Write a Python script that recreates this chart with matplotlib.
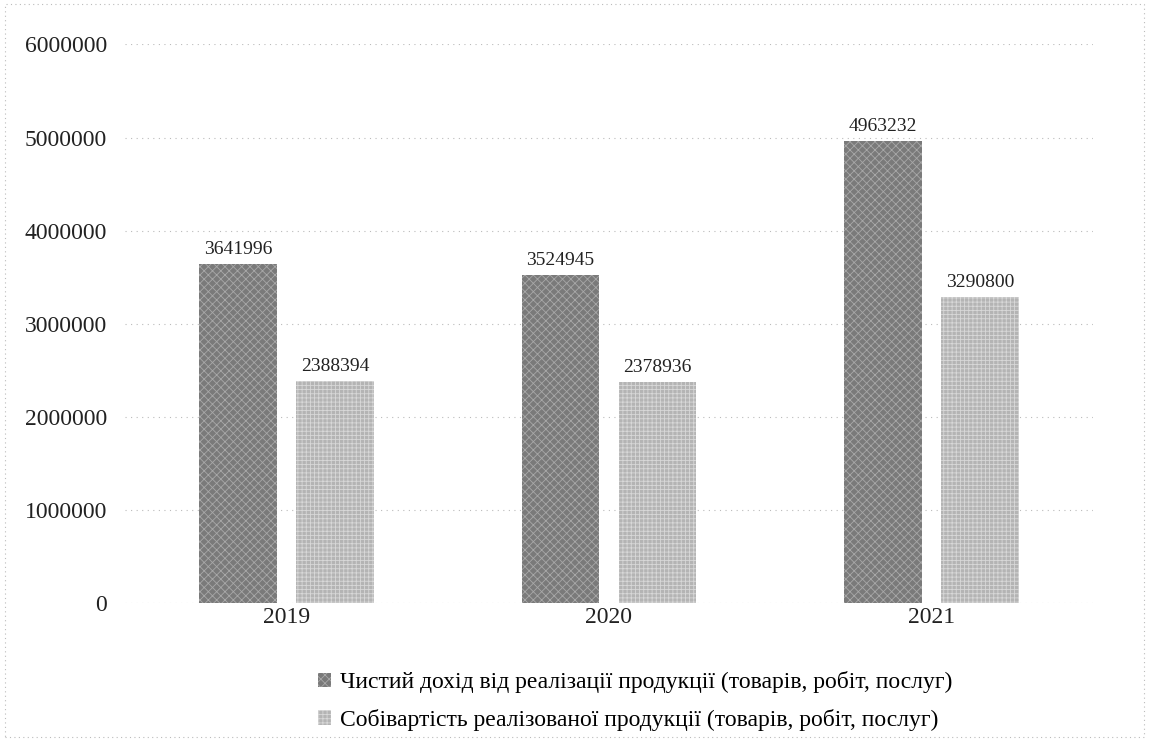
import matplotlib.pyplot as plt
import numpy as np

years = ['2019', '2020', '2021']
dohid = [3641996, 3524945, 4963232]
sobivartist = [2388394, 2378936, 3290800]
nazvy = ['Чистий дохід від реалізації продукції (товарів, робіт, послуг)',
         'Собівартість реалізованої продукції (товарів, робіт, послуг)']

plt.rcParams['font.family'] = ['Liberation Serif', 'DejaVu Serif']
plt.rcParams['hatch.linewidth'] = 0.6

fig = plt.figure(figsize=(11.49, 7.4), dpi=100)
ax = fig.add_axes([0.109, 0.185, 0.842, 0.755])

x = np.arange(len(years))
w = 0.24
b1 = ax.bar(x - 0.15, dohid, w, color='#7a7a7a', edgecolor='#a8a8a8',
            hatch='xxxx', linewidth=0, label=nazvy[0])
b2 = ax.bar(x + 0.15, sobivartist, w, color='#b4b4b4', edgecolor='#d8d8d8',
            hatch='++++', linewidth=0, label=nazvy[1])

for rects, vals in ((b1, dohid), (b2, sobivartist)):
    for r, v in zip(rects, vals):
        ax.text(r.get_x() + r.get_width() / 2, v + 60000, str(v),
                ha='center', va='bottom', fontsize=14, color='#222222')

ax.set_ylim(0, 6000000)
ax.set_xlim(-0.5, 2.5)
ax.set_yticks(range(0, 6000001, 1000000))
ax.set_yticklabels([str(t) for t in range(0, 6000001, 1000000)])
ax.set_xticks(x)
ax.set_xticklabels(years)
ax.tick_params(axis='both', length=0, labelsize=17, colors='#222222')
ax.tick_params(axis='y', pad=13)
ax.tick_params(axis='x', pad=3)
ax.grid(axis='y', linestyle=(0, (1, 4)), color='#bbbbbb', linewidth=0.8)
ax.set_axisbelow(True)
for s in ax.spines.values():
    s.set_visible(False)

fig.legend(loc='upper center', bbox_to_anchor=(0.553, 0.122), ncol=1,
           frameon=False, fontsize=17, handlelength=0.55, handleheight=0.55,
           handletextpad=0.4, labelspacing=0.67)

# тонка пунктирна рамка як у скані
fig.patches.append(plt.Rectangle((0.004, 0.004), 0.992, 0.99, transform=fig.transFigure,
                                 fill=False, linestyle=(0, (1, 3)), edgecolor='#bbbbbb',
                                 linewidth=0.8))

fig.savefig('out.png', dpi=100)
